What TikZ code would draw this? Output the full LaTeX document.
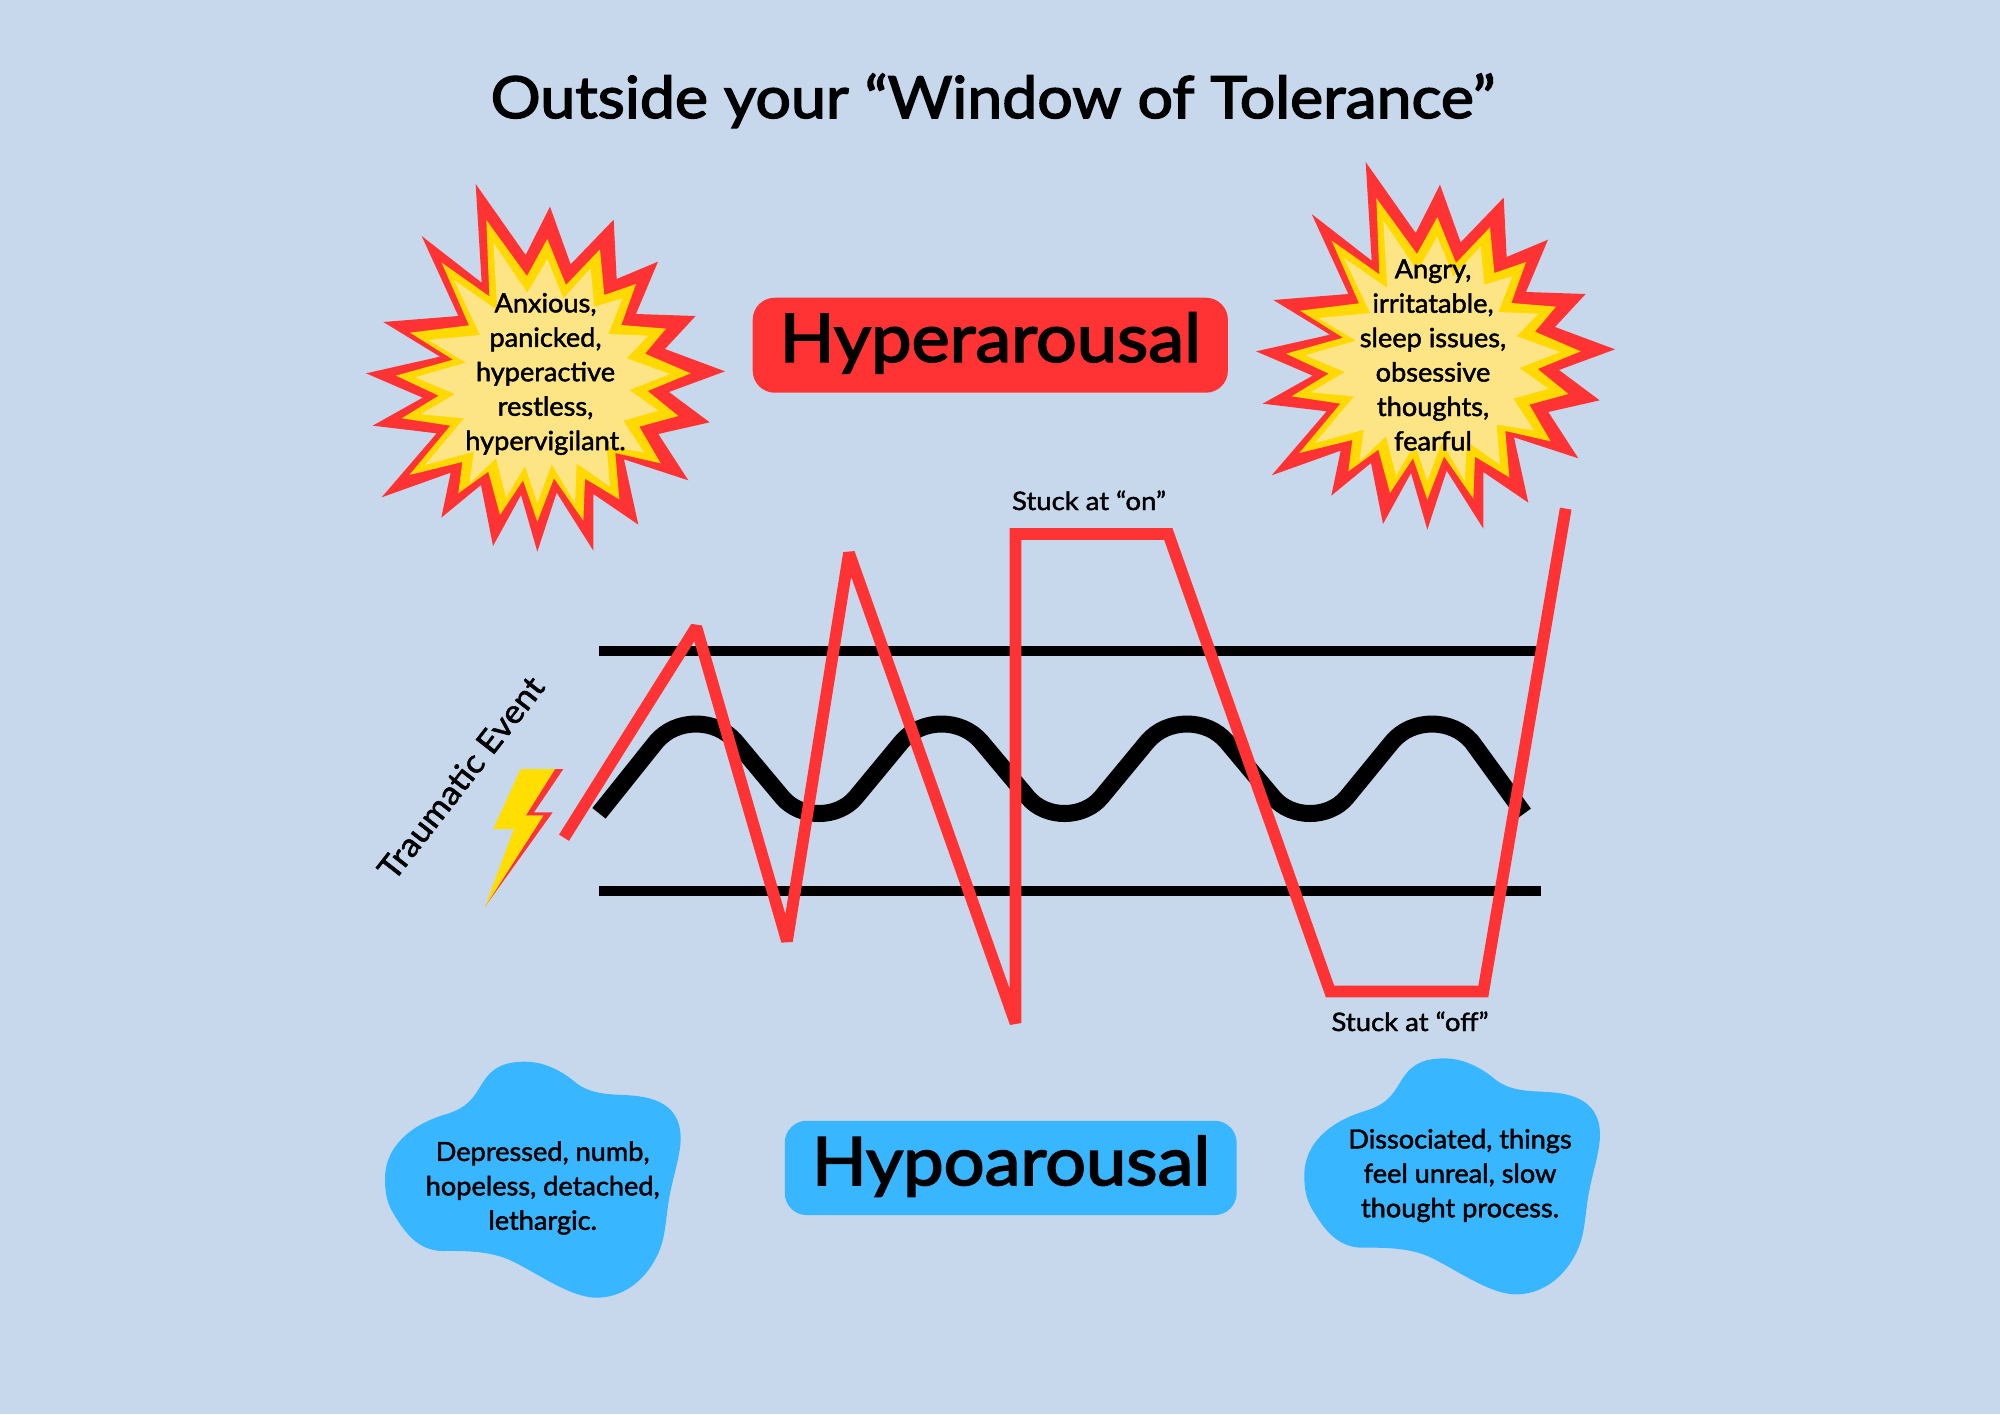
\documentclass[tikz,border=0pt]{standalone}
\usepackage{fontspec}
\setmainfont{Lato}[FakeStretch=1.03,FakeBold=1.8]
\newfontfamily\headfont{Lato}[FakeStretch=1.08,FakeBold=2.6]
\newfontfamily\labelfont{Lato}[FakeStretch=1.08,FakeBold=1.6]
\definecolor{pagebg}{HTML}{C7D8ED}
\definecolor{hotred}{HTML}{FF3333}
\definecolor{burstyellow}{HTML}{FFD900}
\definecolor{burstlight}{HTML}{FDE585}
\definecolor{coolblue}{HTML}{38B6FF}
\definecolor{boltyellow}{HTML}{FFDE00}
\newcommand{\burstshape}{%
  \fill[hotred] (377,42)--(527,255)--(600,110)--(662,283)--(791,149)--(800,327)--(924,275)--(858,432)--(1037,438)--(945,537)--(1125,604)--(957,666)--(1079,757)--(925,792)--(1015,931)--(822,868)--(865,1064)--(730,972)--(730,1142)--(620,968)--(562,1145)--(513,975)--(429,1128)--(393,945)--(274,1043)--(302,908)--(95,982)--(260,790)--(68,767)--(218,683)--(48,610)--(270,560)--(100,456)--(325,438)--(215,198)--(395,338)--cycle;
  \fill[burstyellow] (409,150)--(531,318)--(592,207)--(648,345)--(750,238)--(763,375)--(858,342)--(814,465)--(948,476)--(885,551)--(1022,610)--(893,663)--(985,738)--(868,770)--(932,880)--(796,849)--(808,988)--(705,926)--(700,1052)--(612,925)--(562,1055)--(519,931)--(450,1035)--(415,905)--(325,970)--(337,876)--(178,915)--(301,767)--(155,745)--(266,677)--(138,617)--(309,569)--(180,488)--(357,466)--(275,278)--(418,379)--cycle;
  \fill[burstlight] (430,218)--(532,368)--(592,267)--(640,385)--(722,295)--(733,410)--(817,385)--(775,492)--(895,497)--(830,565)--(960,612)--(838,660)--(925,722)--(820,752)--(882,847)--(770,830)--(780,950)--(680,880)--(675,1000)--(605,882)--(562,1000)--(525,888)--(468,983)--(438,865)--(358,940)--(372,845)--(225,885)--(342,745)--(212,733)--(315,672)--(195,622)--(348,578)--(235,510)--(390,495)--(312,330)--(442,420)--cycle;
}
\newcommand{\blobshape}{%
  \fill[coolblue] (465,65) .. controls (530,65) and (585,100) .. (620,130)
  .. controls (660,160) and (710,163) .. (760,165)
  .. controls (830,168) and (932,180) .. (932,295)
  .. controls (932,350) and (905,420) .. (895,490)
  .. controls (885,560) and (885,600) .. (860,650)
  .. controls (820,730) and (750,775) .. (675,773)
  .. controls (600,770) and (510,705) .. (430,665)
  .. controls (370,635) and (300,632) .. (220,633)
  .. controls (140,633) and (100,570) .. (70,520)
  .. controls (45,480) and (45,440) .. (45,410)
  .. controls (50,300) and (150,245) .. (230,222)
  .. controls (320,195) and (320,140) .. (360,100)
  .. controls (390,70) and (430,65) .. (465,65) -- cycle;
}
\tikzset{
  zoomed/.style={x=0.0066667cm,y=-0.0066667cm},
  bodytext/.style={align=center,inner sep=0pt,font=\fontsize{15}{19.6}\selectfont},
  tag/.style={anchor=base,inner sep=0pt,font=\labelfont\fontsize{14.5}{18}\selectfont},
  headtext/.style={anchor=base,inner sep=0pt,font=\headfont\fontsize{38}{40}\selectfont},
  headbox/.style={rounded corners=0.44cm,inner sep=0pt},
  windowline/.style={line width=0.215cm},
  calmwave/.style={line width=0.34cm,line join=round},
  stressline/.style={hotred,line width=0.235cm,line join=miter,miter limit=1.5}
}
\begin{document}
\begin{tikzpicture}[x=0.02cm,y=-0.02cm]
\fill[pagebg] (0,0) rectangle (2000,1414);
\useasboundingbox (0,0) rectangle (2000,1414);
\node[anchor=base,inner sep=0pt,font=\headfont\fontsize{33}{36}\selectfont] (title) at (993,118) {Outside your “Window of Tolerance”};
% bursts
\begin{scope}[shift={(350,170)},zoomed]\burstshape\end{scope}
\begin{scope}[shift={(1240,148)},zoomed]\burstshape\end{scope}
\node[bodytext] (burstL) at (545.5,374) {Anxious,\\panicked,\\hyperactive\\restless,\\hypervigilant.};
\node[bodytext] (burstR) at (1433,355) {Angry,\\irritatable,\\sleep issues,\\obsessive\\thoughts,\\fearful};
% headings
\node[headbox,fill=hotred,minimum width=9.506cm,minimum height=1.9cm] (hyperbox) at (990.3,345.2) {};
\node[headtext] (hyper) at (990.3,361.7) {Hyperarousal};
\node[headbox,fill=coolblue,minimum width=9.04cm,minimum height=1.887cm] (hypobox) at (1010.7,1167.9) {};
\node[headtext] (hypo) at (1011,1185) {Hypoarousal};
% window
\coordinate (upL) at (599,651); \coordinate (upR) at (1538,651);
\coordinate (loL) at (599,891); \coordinate (loR) at (1541,891);
\draw[windowline] (upL) -- (upR);
\draw[windowline] (loL) -- (loR);
\draw[calmwave] (599,813.3) -- (656,742)
 .. controls (676,718) and (716,718) .. (736,742) -- (782,797)
 .. controls (800,819) and (838,819) .. (856,797) -- (901.5,742)
 .. controls (921.5,718) and (961.5,718) .. (981.5,742) -- (1027.5,797)
 .. controls (1045.5,819) and (1083.5,819) .. (1101.5,797) -- (1147,742)
 .. controls (1167,718) and (1207,718) .. (1227,742) -- (1273,797)
 .. controls (1291,819) and (1329,819) .. (1347,797) -- (1392,742)
 .. controls (1412,718) and (1452,718) .. (1472,742) -- (1524,813.6);
\draw[stressline] (564,837.7) -- (696.3,627) -- (787,941) -- (849,553) -- (1015.5,1023) -- (1015.5,534) -- (1168.3,534) -- (1330,991.4) -- (1483.3,991.4) -- (1565.7,508.6);
\node[tag] (stuckon) at (1089,510) {Stuck at “on”};
\node[tag] (stuckoff) at (1410,1031) {Stuck at “off”};
% bolt
\begin{scope}[shift={(360,660)},zoomed]
\fill[hotred] (585,327)--(610,327)--(522,457)--(578,457)--(375,740)--(550,467)--(497,467)--cycle;
\fill[boltyellow] (482,327)--(585,327)--(497,467)--(550,467)--(375,740)--(462,507)--(400,507)--cycle;
\end{scope}
\node[tag,rotate=52,font=\labelfont\fontsize{18.5}{21}\selectfont] (trauma) at (470,785) {Traumatic Event};
% blobs
\begin{scope}[shift={(370,1040)},zoomed]\blobshape\end{scope}
\begin{scope}[shift={(1289.3,1036.7)},zoomed]\blobshape\end{scope}
\node[bodytext] (blobL) at (542.7,1188) {Depressed, numb,\\hopeless, detached,\\lethargic.};
\node[bodytext] (blobR) at (1460,1175.5) {Dissociated, things\\feel unreal, slow\\thought process.};
\end{tikzpicture}
\end{document}
